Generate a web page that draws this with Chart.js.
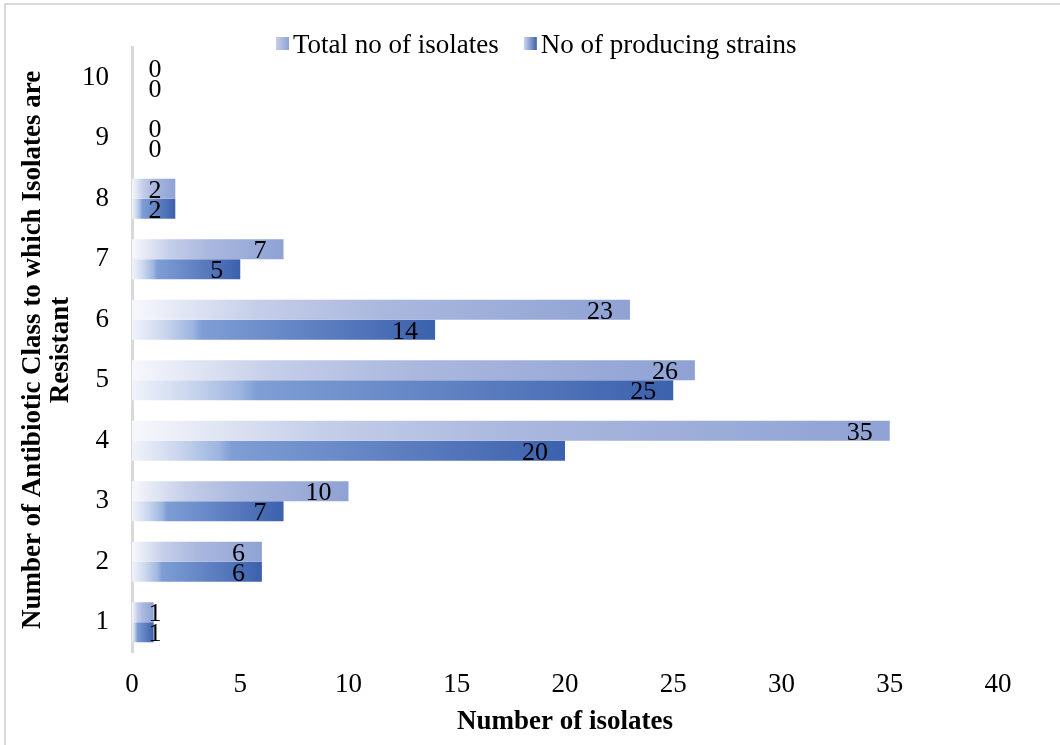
<!DOCTYPE html>
<html>
<head>
<meta charset="utf-8">
<title>Antibiotic resistance classes</title>
<script src="https://cdn.jsdelivr.net/npm/chart.js@4.4.1/dist/chart.umd.min.js"></script>
<style>
  html, body { margin: 0; padding: 0; background: #ffffff; }
  canvas { display: block; }
</style>
</head>
<body>
<canvas id="chart" width="1060" height="745"></canvas>
<script>
// Number of antibiotic classes each isolate resists (y categories)
const classCounts = ['1', '2', '3', '4', '5', '6', '7', '8', '9', '10'];
// Isolates per class count
const totalIsolates = [1, 6, 10, 35, 26, 23, 7, 2, 0, 0];
const producingStrains = [1, 6, 7, 20, 25, 14, 5, 2, 0, 0];
// Value axis ticks
const xTicks = [0, 5, 10, 15, 20, 25, 30, 35, 40];
const seriesNames = ['Total no of isolates', 'No of producing strains'];

const SERIF = '"Liberation Serif", "Times New Roman", serif';

// Horizontal gradient stops (white at the base, full colour at the bar end)
const totalStops = [[0, '#f7f8fc'], [0.25, '#c5cee9'], [0.5, '#aab8de'], [1, '#8fa2d4']];
const producingStops = [[0, '#f0f3fa'], [0.1, '#cdd8ee'], [0.2, '#9db5e0'], [0.23, '#7f9ed5'], [1, '#3c61ad']];

function barFill(stops) {
  const solid = stops[stops.length - 1][1];
  return (ctx) => {
    if (ctx.type !== 'data') return solid;
    const chart = ctx.chart;
    const xs = chart.scales.x;
    if (!xs || !chart.chartArea) return solid;
    const x0 = xs.getPixelForValue(0);
    const x1 = xs.getPixelForValue(ctx.raw);
    if (!(x1 > x0)) return solid;
    const g = chart.ctx.createLinearGradient(x0, 0, x1, 0);
    stops.forEach(([o, c]) => g.addColorStop(o, c));
    return g;
  };
}

// Light frame around the figure
const frame = {
  id: 'frame',
  beforeDraw(chart) {
    const ctx = chart.ctx;
    ctx.save();
    ctx.fillStyle = '#ffffff';
    ctx.fillRect(0, 0, chart.width, chart.height);
    ctx.strokeStyle = '#d9d9d9';
    ctx.lineWidth = 2;
    ctx.strokeRect(5, 4, chart.width + 20, chart.height + 20);
    ctx.restore();
  }
};

// Value labels placed just inside the end of each bar
const valueLabels = {
  id: 'valueLabels',
  afterDatasetsDraw(chart) {
    const ctx = chart.ctx;
    const x0 = chart.scales.x.getPixelForValue(0);
    const size = 26;
    ctx.save();
    ctx.font = size + 'px ' + SERIF;
    ctx.fillStyle = '#000000';
    ctx.textAlign = 'center';
    ctx.textBaseline = 'alphabetic';
    chart.data.datasets.forEach((ds, i) => {
      chart.getDatasetMeta(i).data.forEach((bar, j) => {
        const txt = String(ds.data[j]);
        const w = ctx.measureText(txt).width;
        const cx = Math.max(bar.x - 17 - w / 2, x0 + 23);
        ctx.fillText(txt, cx, bar.y + 0.338 * size);
      });
    });
    ctx.restore();
  }
};

// Legend row across the top with gradient swatches
const topLegend = {
  id: 'topLegend',
  afterDraw(chart) {
    const ctx = chart.ctx;
    const size = 27;
    const sw = 13;
    const swTop = 37;
    ctx.save();
    ctx.font = size + 'px ' + SERIF;
    ctx.fillStyle = '#000000';
    ctx.textBaseline = 'alphabetic';
    let x = 276;
    chart.data.datasets.forEach((ds, i) => {
      const stops = i === 0 ? totalStops : producingStops;
      const g = ctx.createLinearGradient(x, 0, x + sw, 0);
      g.addColorStop(0, stops[1][1]);
      g.addColorStop(1, stops[stops.length - 1][1]);
      ctx.fillStyle = g;
      ctx.fillRect(x, swTop, sw, sw);
      ctx.fillStyle = '#000000';
      const tx = x + sw + 4;
      ctx.fillText(ds.label, tx, swTop + sw / 2 + 0.338 * size);
      x = tx + ctx.measureText(ds.label).width + 25;
    });
    ctx.restore();
  }
};

new Chart(document.getElementById('chart'), {
  type: 'bar',
  data: {
    labels: classCounts,
    datasets: [
      { label: seriesNames[0], data: totalIsolates, backgroundColor: barFill(totalStops) },
      { label: seriesNames[1], data: producingStrains, backgroundColor: barFill(producingStops) }
    ]
  },
  options: {
    indexAxis: 'y',
    responsive: false,
    animation: false,
    devicePixelRatio: 1,
    layout: { padding: { top: 47.5, right: 62, left: 0, bottom: 0 } },
    datasets: { bar: { categoryPercentage: 0.662, barPercentage: 1, borderWidth: 0 } },
    plugins: { legend: { display: false }, tooltip: { enabled: false } },
    scales: {
      x: {
        type: 'linear',
        min: xTicks[0],
        max: xTicks[xTicks.length - 1],
        afterBuildTicks: (s) => { s.ticks = xTicks.map(v => ({ value: v })); },
        ticks: { color: '#000000', font: { family: SERIF, size: 27 }, padding: 16, maxRotation: 0 },
        grid: { display: false, drawTicks: false },
        border: { display: false },
        title: {
          display: true,
          text: 'Number of isolates',
          color: '#000000',
          font: { family: SERIF, size: 27, weight: 'bold' },
          padding: { top: 0, bottom: 7 }
        },
        afterFit: (s) => { s.height = 92.5; }
      },
      y: {
        type: 'category',
        reverse: true,
        ticks: { color: '#000000', font: { family: SERIF, size: 27 }, padding: 23 },
        grid: { display: false, drawTicks: false },
        border: { display: true, color: '#d9d9d9', width: 3 },
        title: {
          display: true,
          text: ['Number of Antibiotic Class to which Isolates are', 'Resistant'],
          color: '#000000',
          font: { family: SERIF, size: 27, weight: 'bold', lineHeight: 1.05 },
          padding: { top: 19, bottom: 0 }
        },
        afterFit: (s) => { s.width = 132; }
      }
    }
  },
  plugins: [frame, valueLabels, topLegend]
});
</script>
</body>
</html>
